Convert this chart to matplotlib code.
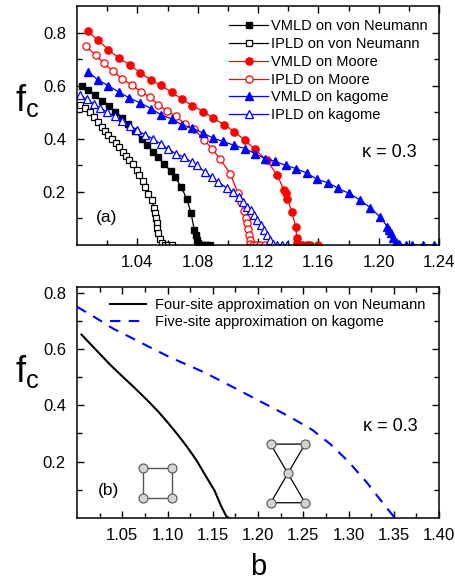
import matplotlib

matplotlib.use("Agg")
import matplotlib.pyplot as plt
from matplotlib.ticker import FixedLocator

plt.rcParams["font.family"] = ["Liberation Sans", "DejaVu Sans"]
plt.rcParams["mathtext.fontset"] = "custom"
plt.rcParams["mathtext.rm"] = "Liberation Sans"

# ---- panel (a): simulation data, kappa = 0.3 ----
vmld_vn_b = [1.0035, 1.0075, 1.012, 1.0165, 1.021, 1.0255, 1.030, 1.034, 1.0385, 1.043,
             1.0465, 1.0505, 1.054, 1.0575, 1.062, 1.065, 1.069, 1.0727, 1.0756, 1.0778,
             1.0787, 1.0794, 1.0804, 1.0816, 1.0836, 1.0855, 1.0882]
vmld_vn_f = [0.600, 0.583, 0.563, 0.543, 0.522, 0.502, 0.480, 0.455, 0.428, 0.400,
             0.377, 0.352, 0.330, 0.305, 0.280, 0.256, 0.219, 0.175, 0.120, 0.056,
             0.037, 0.019, 0.006, 0, 0, 0, 0]

ipld_vn_b = [1.002, 1.0053, 1.0086, 1.0115, 1.0137, 1.0164, 1.0186, 1.0208, 1.0231, 1.0257,
             1.028, 1.0303, 1.0325, 1.0347, 1.0373, 1.0396, 1.0413, 1.0436, 1.0451, 1.0473,
             1.0495, 1.0509, 1.0517, 1.0524, 1.0528, 1.0532, 1.0539, 1.055, 1.0566, 1.0585,
             1.0605, 1.063]
ipld_vn_f = [0.528, 0.516, 0.500, 0.482, 0.462, 0.446, 0.431, 0.415, 0.400, 0.384,
             0.369, 0.352, 0.337, 0.321, 0.306, 0.284, 0.262, 0.240, 0.219, 0.191,
             0.169, 0.141, 0.119, 0.100, 0.081, 0.063, 0.044, 0.022, 0.006, 0,
             0, 0]

vmld_moore_b = [1.0073, 1.0139, 1.0208, 1.0277, 1.0349, 1.042, 1.0491, 1.0557, 1.0628, 1.0694,
                1.0765, 1.0838, 1.0904, 1.0977, 1.1043, 1.1114, 1.118, 1.1258, 1.1328, 1.1373,
                1.1384, 1.1395, 1.1424, 1.145, 1.1457, 1.1461, 1.149, 1.1523, 1.1545, 1.160]
vmld_moore_f = [0.804, 0.771, 0.736, 0.704, 0.679, 0.648, 0.621, 0.601, 0.575, 0.550,
                0.525, 0.502, 0.477, 0.453, 0.427, 0.394, 0.360, 0.319, 0.262, 0.206,
                0.194, 0.175, 0.125, 0.069, 0.025, 0.006, 0, 0, 0, 0]

ipld_moore_b = [1.006, 1.0124, 1.0179, 1.0241, 1.030, 1.0363, 1.0424, 1.0484, 1.0539, 1.0595,
                1.0655, 1.0716, 1.0775, 1.0845, 1.0895, 1.0950, 1.1015, 1.1068, 1.109, 1.1105,
                1.1118, 1.1125, 1.1133, 1.114, 1.1146, 1.115, 1.1165, 1.1185, 1.121, 1.1245]
ipld_moore_f = [0.748, 0.715, 0.684, 0.654, 0.625, 0.603, 0.577, 0.556, 0.528, 0.506,
                0.484, 0.456, 0.435, 0.395, 0.362, 0.323, 0.269, 0.194, 0.162, 0.128,
                0.100, 0.081, 0.060, 0.038, 0.018, 0.003, 0, 0, 0, 0]

vmld_kag_b = [1.0073, 1.0141, 1.0208, 1.0277, 1.0347, 1.0418, 1.0491, 1.0557, 1.0628, 1.0694,
              1.0761, 1.0838, 1.0904, 1.097, 1.1043, 1.1114, 1.118, 1.1247, 1.1313, 1.1384,
              1.145, 1.1523, 1.1594, 1.1667, 1.1733, 1.1806, 1.1877, 1.1943, 1.2009, 1.2058,
              1.2071, 1.208, 1.2098, 1.2113, 1.2137, 1.2178, 1.2222, 1.2297, 1.2369]
vmld_kag_f = [0.652, 0.621, 0.600, 0.576, 0.554, 0.535, 0.514, 0.490, 0.475, 0.453,
              0.441, 0.421, 0.402, 0.390, 0.375, 0.363, 0.344, 0.325, 0.315, 0.300,
              0.288, 0.271, 0.247, 0.234, 0.213, 0.194, 0.169, 0.141, 0.106, 0.069,
              0.056, 0.044, 0.027, 0.012, 0.003, 0, 0, 0, 0]

ipld_kag_b = [1.002, 1.0065, 1.0115, 1.0155, 1.020, 1.025, 1.030, 1.035, 1.040, 1.045,
              1.0505, 1.0555, 1.060, 1.0655, 1.071, 1.076, 1.0795, 1.0849, 1.0893, 1.0937,
              1.0993, 1.1037, 1.1076, 1.1103, 1.1129, 1.1152, 1.1174, 1.1196, 1.1218, 1.124,
              1.1262, 1.128, 1.1302, 1.1328, 1.1357, 1.139]
ipld_kag_f = [0.565, 0.548, 0.530, 0.516, 0.500, 0.485, 0.467, 0.450, 0.432, 0.415,
              0.400, 0.381, 0.363, 0.344, 0.331, 0.312, 0.300, 0.275, 0.255, 0.237,
              0.215, 0.198, 0.181, 0.162, 0.144, 0.131, 0.112, 0.094, 0.075, 0.056,
              0.037, 0.019, 0.004, 0, 0, 0]

# ---- panel (b): pair approximations ----
four_b = [1.005, 1.02, 1.037, 1.05, 1.063, 1.078, 1.09, 1.10, 1.112, 1.122,
          1.132, 1.141, 1.152, 1.159, 1.165, 1.168]
four_f = [0.651, 0.600, 0.543, 0.503, 0.464, 0.417, 0.377, 0.340, 0.293, 0.251,
          0.205, 0.156, 0.097, 0.044, 0.006, 0.0]

five_b = [1.0, 1.02, 1.04, 1.06, 1.08, 1.10, 1.12, 1.14, 1.16, 1.18,
          1.20, 1.22, 1.24, 1.26, 1.28, 1.30, 1.32, 1.34, 1.35, 1.355, 1.36]
five_f = [0.750, 0.712, 0.672, 0.640, 0.607, 0.575, 0.546, 0.518, 0.485, 0.452,
          0.418, 0.385, 0.350, 0.313, 0.262, 0.200, 0.127, 0.045, 0.005, 0.0, 0.0]

# lattice sketches, in axes fraction
square_x = [0.183, 0.263, 0.263, 0.183, 0.183]
square_y = [0.215, 0.215, 0.085, 0.085, 0.215]
bowtie_x = [0.535, 0.63, 0.535, 0.63, 0.535]
bowtie_y = [0.32, 0.32, 0.066, 0.066, 0.32]
bowtie_cx = [0.5825]
bowtie_cy = [0.193]

RED = "#ff0000"
BLUE = "#0000ff"

fig = plt.figure(figsize=(4.55, 5.85), dpi=100)
ax1 = fig.add_axes([77 / 455, 1 - 245 / 585, 362 / 455, 239 / 585])
ax2 = fig.add_axes([77 / 455, 1 - 518 / 585, 362 / 455, 231 / 585])

lw = 0.9
ax1.plot(vmld_vn_b, vmld_vn_f, "-s", color="k", lw=lw, ms=4.5, mfc="k",
         label="VMLD on von Neumann")
ax1.plot(ipld_vn_b, ipld_vn_f, "-s", color="k", lw=lw, ms=4.5, mfc="white", mew=0.9,
         label="IPLD on von Neumann")
ax1.plot(vmld_moore_b, vmld_moore_f, "-o", color=RED, lw=lw, ms=5.2, mfc=RED,
         label="VMLD on Moore")
ax1.plot(ipld_moore_b, ipld_moore_f, "-o", color=RED, lw=lw, ms=5.2, mfc="white", mew=0.9,
         label="IPLD on Moore")
ax1.plot(vmld_kag_b, vmld_kag_f, "-^", color=BLUE, lw=lw, ms=5.8, mfc=BLUE,
         label="VMLD on kagome")
ax1.plot(ipld_kag_b, ipld_kag_f, "-^", color=BLUE, lw=lw, ms=5.8, mfc="white", mew=0.9,
         label="IPLD on kagome")

ax1.set_xlim(1.0, 1.24)
ax1.set_ylim(0, 0.9)
ax1.xaxis.set_major_locator(FixedLocator([1.04, 1.08, 1.12, 1.16, 1.20, 1.24]))
ax1.xaxis.set_minor_locator(FixedLocator([1.02, 1.06, 1.10, 1.14, 1.18, 1.22]))
ax1.yaxis.set_major_locator(FixedLocator([0.2, 0.4, 0.6, 0.8]))
ax1.yaxis.set_minor_locator(FixedLocator([0.1, 0.3, 0.5, 0.7]))
ax1.set_xticklabels(["1.04", "1.08", "1.12", "1.16", "1.20", "1.24"])
ax1.set_yticklabels(["0.2", "0.4", "0.6", "0.8"])

leg1 = ax1.legend(loc="upper left", bbox_to_anchor=(0.40, 0.975), frameon=False,
                  fontsize=10.5, handlelength=2.7, handletextpad=0.15,
                  labelspacing=0.26, borderpad=0, numpoints=1)
ax1.text(0.083, 0.113, "(a)", transform=ax1.transAxes, fontsize=12.5,
         ha="center", va="center")
ax1.text(0.862, 0.389, "\u03ba = 0.3", transform=ax1.transAxes, fontsize=13,
         ha="center", va="center")

ax2.plot(four_b, four_f, "-", color="k", lw=1.5,
         label="Four-site approximation on von Neumann")
ax2.plot(five_b, five_f, "--", color=BLUE, lw=1.5, dashes=(5, 4),
         label="Five-site approximation on kagome")
ax2.set_xlim(1.0, 1.4)
ax2.set_ylim(0, 0.82)
ax2.xaxis.set_major_locator(FixedLocator([1.05, 1.10, 1.15, 1.20, 1.25, 1.30, 1.35, 1.40]))
ax2.xaxis.set_minor_locator(FixedLocator([1.025, 1.075, 1.125, 1.175, 1.225, 1.275, 1.325, 1.375]))
ax2.yaxis.set_major_locator(FixedLocator([0.2, 0.4, 0.6, 0.8]))
ax2.yaxis.set_minor_locator(FixedLocator([0.1, 0.3, 0.5, 0.7]))
ax2.set_xticklabels(["1.05", "1.10", "1.15", "1.20", "1.25", "1.30", "1.35", "1.40"])
ax2.set_yticklabels(["0.2", "0.4", "0.6", "0.8"])

ax2.legend(loc="upper left", bbox_to_anchor=(0.071, 0.985), frameon=False,
           fontsize=10.5, handlelength=2.5, handletextpad=0.6,
           labelspacing=0.2, borderpad=0)
ax2.text(0.086, 0.117, "(b)", transform=ax2.transAxes, fontsize=12.5,
         ha="center", va="center")
ax2.text(0.865, 0.398, "\u03ba = 0.3", transform=ax2.transAxes, fontsize=13,
         ha="center", va="center")

# lattice sketches
node = dict(marker="o", ms=6.5, mfc="#d3d3d3", mec="#555555", mew=0.8, ls="none")
ax2.plot(square_x, square_y, "-", color="#555555", lw=1.0, transform=ax2.transAxes)
ax2.plot(square_x[:4], square_y[:4], transform=ax2.transAxes, **node)
ax2.plot(bowtie_x, bowtie_y, "-", color="k", lw=0.9, transform=ax2.transAxes)
ax2.plot(bowtie_x[:4], bowtie_y[:4], transform=ax2.transAxes, **node)
ax2.plot(bowtie_cx, bowtie_cy, transform=ax2.transAxes, **node)

for ax in (ax1, ax2):
    for s in ax.spines.values():
        s.set_linewidth(1.1)
    ax.tick_params(which="both", direction="in", top=True, right=True,
                   labelsize=12, width=1.0)
    ax.tick_params(which="major", length=5)
    ax.tick_params(which="minor", length=3.5)
    ax.tick_params(axis="x", pad=7)
    ax.tick_params(axis="y", pad=8)

fig.text(27 / 455, 1 - 100 / 585, r"$\mathregular{f_c}$", fontsize=26,
         ha="center", va="center")
fig.text(27 / 455, 1 - 372 / 585, r"$\mathregular{f_c}$", fontsize=26,
         ha="center", va="center")
fig.text(258 / 455, 1 - 567 / 585, "b", fontsize=21, ha="center", va="center")

fig.savefig("out.png", dpi=100)
plt.close(fig)
